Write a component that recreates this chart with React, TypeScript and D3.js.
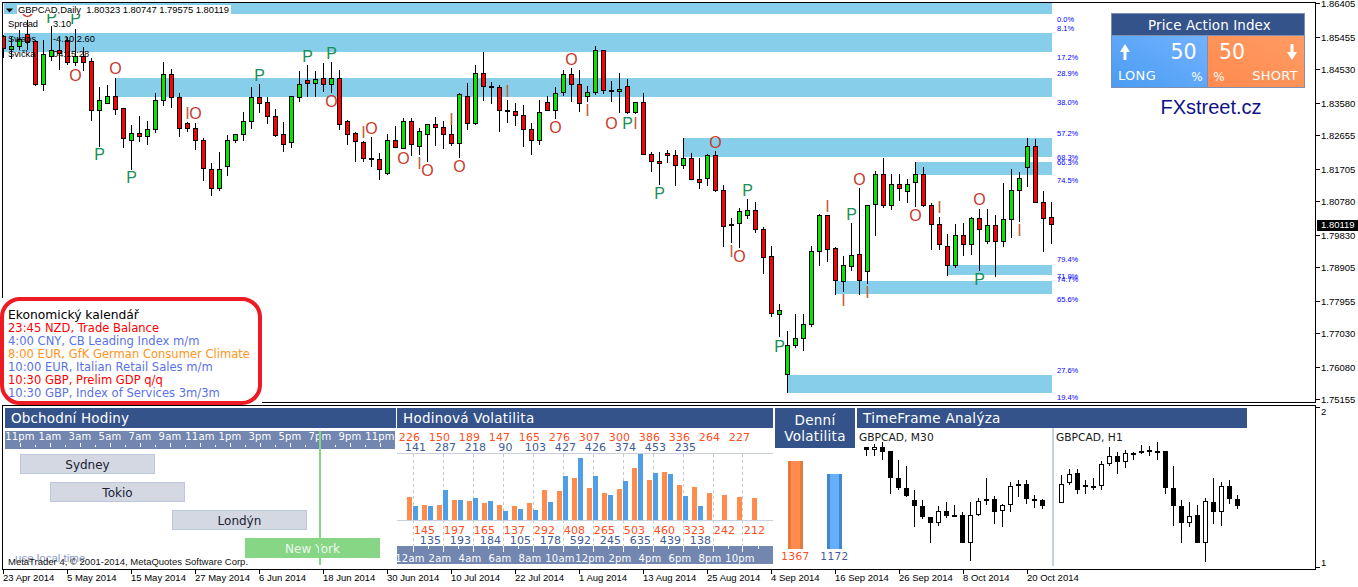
import React, { useEffect, useRef } from 'react';
import * as d3 from 'd3';

// all prices below are in 1/10000 (18545 = 1.8545)
// open, high, low, close
const dailyCandles: number[][] = [
  [18545,18551,18485,18511],[18508,18545,18482,18517],[18517,18565,18508,18539],[18551,18593,18508,18528],
  [18531,18536,18406,18409],[18409,18536,18392,18494],[18488,18576,18477,18505],[18505,18545,18451,18499],
  [18534,18545,18465,18471],[18471,18568,18463,18488],[18488,18517,18448,18471],[18474,18485,18306,18335],
  [18335,18403,18233,18363],[18357,18409,18357,18375],[18375,18428,18323,18340],[18343,18343,18230,18255],
  [18250,18295,18167,18272],[18272,18321,18247,18261],[18261,18306,18238,18281],[18281,18386,18272,18363],
  [18363,18474,18349,18437],[18437,18454,18343,18372],[18372,18386,18261,18284],[18298,18304,18275,18284],
  [18284,18301,18224,18250],[18250,18258,18136,18170],[18167,18187,18093,18113],[18113,18218,18108,18167],
  [18176,18267,18150,18250],[18250,18267,18244,18267],[18267,18332,18250,18306],[18306,18403,18284,18372],
  [18372,18411,18329,18357],[18360,18375,18298,18318],[18318,18340,18261,18264],[18267,18304,18218,18238],
  [18244,18377,18230,18375],[18372,18448,18360,18409],[18420,18465,18375,18414],[18414,18448,18375,18423],
  [18426,18471,18389,18409],[18409,18474,18386,18426],[18426,18451,18281,18295],[18306,18309,18238,18269],
  [18272,18275,18190,18247],[18244,18250,18190,18201],[18201,18261,18176,18196],[18196,18215,18139,18167],
  [18156,18269,18153,18250],[18250,18292,18230,18230],[18227,18315,18227,18304],[18304,18315,18207,18238],
  [18235,18286,18210,18275],[18269,18298,18190,18295],[18295,18318,18235,18289],[18289,18306,18227,18269],
  [18269,18309,18235,18241],[18241,18386,18201,18380],[18377,18414,18281,18298],[18298,18465,18295,18440],
  [18440,18502,18363,18403],[18403,18417,18355,18400],[18400,18409,18275,18335],[18335,18366,18301,18332],
  [18332,18357,18292,18321],[18321,18352,18233,18281],[18281,18301,18210,18250],[18250,18366,18238,18329],
  [18360,18377,18335,18335],[18335,18403,18312,18383],[18386,18451,18377,18437],[18437,18457,18360,18411],
  [18411,18451,18332,18357],[18375,18406,18360,18386],[18386,18519,18380,18505],[18505,18508,18383,18392],
  [18392,18420,18360,18389],[18389,18443,18329,18397],[18403,18426,18326,18329],[18329,18360,18326,18360],
  [18360,18386,18210,18210],[18210,18218,18162,18190],[18190,18218,18125,18184],[18213,18224,18187,18207],
  [18207,18224,18122,18179],[18179,18258,18170,18201],[18201,18215,18139,18139],[18139,18201,18113,18130],
  [18144,18213,18122,18207],[18207,18221,18105,18110],[18110,18125,17949,18005],[18011,18031,17960,18008],
  [18014,18059,17946,18048],[18039,18085,18028,18051],[18051,18076,17988,17997],[17997,18005,17872,17917],
  [17920,17951,17750,17758],[17755,17787,17693,17767],[17585,17710,17534,17667],[17667,17758,17662,17687],
  [17687,17758,17653,17727],[17727,17951,17721,17934],[17934,18042,17895,18037],[18037,18039,17906,17940],
  [17943,17949,17812,17852],[17849,17923,17821,17895],[17892,18017,17880,17923],[17926,18116,17812,17852],
  [17878,18065,17843,18065],[18068,18164,17980,18153],[18153,18201,18059,18065],[18065,18156,18054,18125],
  [18125,18156,18079,18113],[18105,18142,18073,18127],[18130,18190,18062,18153],[18153,18176,18062,18065],
  [18065,18073,17940,18011],[18011,18034,17940,17954],[17949,17985,17866,17897],[17897,18014,17889,17980],
  [17980,18017,17923,17954],[17954,18034,17926,18028],[18028,18056,17880,17997],[17963,18056,17957,18008],
  [18008,18039,17863,17963],[17963,18130,17949,18025],[18025,18170,17974,18110],[18110,18162,18020,18144],
  [18173,18258,18119,18235],[18235,18255,18073,18076],[18076,18108,17934,18028],[18032,18075,17958,18012]
];

// first candle index, top price, bottom price
const zones: number[][] = [
  [0,18641,18610],[0,18556,18503],[14,18428,18375],[85,18258,18204],
  [114,18190,18153],[118,17897,17869],[104,17852,17816],[98,17585,17534]
];

const zoneLabels = ['0.0%','8.1%','17.2%','28.9%','38.0%','57.2%','68.3%','66.3%','74.5%','79.4%','71.9%','74.7%','65.6%','27.6%','19.4%'];
const zoneLabelPrices = [18596,18570,18488,18443,18360,18272,18204,18190,18139,17912,17866,17855,17801,17599,17520];

const markerLetters = 'O P P O O P P P P P O I O I O O I O I O I O O I O P I P O P I O P I P O I I O I O P I'.split(' ');
const markerBars = [3,6,9,9,14,12,16,32,38,41,41,23,24,45,46,50,52,53,56,57,63,69,71,73,76,78,79,82,89,93,91,92,97,103,106,107,105,108,114,117,122,122,127];
const markerPrices = [18619,18602,18599,18437,18457,18213,18147,18437,18491,18499,18363,18329,18329,18275,18286,18201,18187,18167,18312,18179,18392,18289,18482,18338,18301,18301,18301,18102,18247,18110,17937,17923,17667,18065,18042,18142,17798,17821,18039,18062,18085,17858,17997];

const priceTicks = [1.86405,1.85455,1.8453,1.8358,1.82655,1.81705,1.8078,1.7983,1.78905,1.77955,1.7703,1.7608,1.75155];
const dateLabels = ['23 Apr 2014','5 May 2014','15 May 2014','27 May 2014','6 Jun 2014','18 Jun 2014','30 Jun 2014','10 Jul 2014','22 Jul 2014','1 Aug 2014','13 Aug 2014','25 Aug 2014','4 Sep 2014','16 Sep 2014','26 Sep 2014','8 Oct 2014','20 Oct 2014'];

const calendarLines = ['Ekonomický kalendář','23:45 NZD, Trade Balance','4:00 CNY, CB Leading Index m/m','8:00 EUR, GfK German Consumer Climate','10:00 EUR, Italian Retail Sales m/m','10:30 GBP, Prelim GDP q/q','10:30 GBP, Index of Services 3m/3m'];
const calendarColors = ['#000000','#ff0000','#5a72e8','#ff9420','#5a72e8','#ff0000','#5a72e8'];

const sessionHourLabels = ['11pm','1am','3am','5am','7am','9am','11am','1pm','3pm','5pm','7pm','9pm','11pm'];
const sessionNames = ['Sydney','Tokio','Londýn','New York'];
const sessionStarts = [0,2,10.13,15];
const sessionLength = 9;
const nowHour = 19.95;

const hourLabels = ['12am','2am','4am','6am','8am','10am','12pm','2pm','4pm','6pm','8pm','10pm'];
const hourlyOrange = [226,145,150,197,189,165,147,137,165,292,276,408,307,265,300,503,386,460,336,323,264,242,227,212];
const hourlyBlue = [141,135,287,193,218,184,90,105,103,178,427,592,426,245,374,635,453,439,235,138];

const dailyVolNames = ['1367','1172'];
const dailyVol = [1367,1172];

// open, high, low, close in arbitrary levels, the sub window has no real scale
const m30Candles: number[][] = [
  [473,473,448,466],[466,482,448,474],[473,488,435,460],[461,462,334,382],[380,435,346,352],[350,417,325,328],
  [314,345,235,298],[296,315,258,265],[263,263,186,248],[248,297,238,281],[281,308,260,268],[269,300,264,266],
  [269,280,186,187],[188,308,132,269],[272,322,266,311],[317,381,299,313],[317,328,244,280],[284,304,234,299],
  [302,368,280,356],[362,374,324,359],[362,374,304,319],[317,330,292,314],[314,318,288,298]
];
const h1Candles: number[][] = [
  [308,390,307,362],[368,408,360,392],[395,408,332,347],[360,374,334,356],[357,380,344,353],[359,432,346,422],
  [425,474,418,446],[446,459,393,431],[431,464,412,455],[455,460,434,452],[461,480,452,458],[464,476,448,461],
  [461,488,435,458],[461,462,334,352],[350,417,238,298],[296,315,186,248],[248,308,235,266],[269,300,186,187],
  [188,322,130,311],[308,380,244,280],[281,368,238,356],[356,374,304,319],[317,330,288,298]
];

const NAVY = '#34538a';
const SLATE = '#7286b0';
const ORANGE = '#ff8c4c';
const BLUE = '#4f9fe8';
const LABEL_ORANGE = '#ff4d1c';
const LABEL_BLUE = '#3f5a94';
const SANS = '"DejaVu Sans", sans-serif';
const AXIS = '"Liberation Sans", sans-serif';

type Sel = d3.Selection<any, any, any, any>;

function label(g: Sel, x: number, y: number, s: string, size: number, color: string, anchor = 'start', font = SANS, spacing = 0) {
  return g.append('text')
    .attr('x', x)
    .attr('y', y)
    .attr('dy', '0.36em')
    .attr('text-anchor', anchor)
    .style('font-family', font)
    .style('font-size', `${size}px`)
    .style('letter-spacing', `${spacing}px`)
    .style('white-space', 'pre')
    .style('fill', color)
    .text(s);
}

function box(g: Sel, x: number, y: number, w: number, h: number, fill: string) {
  return g.append('rect')
    .attr('x', x).attr('y', y).attr('width', w).attr('height', h)
    .attr('fill', fill)
    .attr('shape-rendering', 'crispEdges');
}

function candle(g: Sel, cx: number, row: number[], y: (v: number) => number, up: string, down: string) {
  const [o, h, l, c] = row;
  g.append('line')
    .attr('x1', cx).attr('x2', cx)
    .attr('y1', Math.round(y(h))).attr('y2', Math.round(y(l)))
    .attr('stroke', '#000');
  const top = Math.floor(y(Math.max(o, c))) + 0.5;
  const bottom = Math.floor(y(Math.min(o, c))) + 0.5;
  g.append('rect')
    .attr('x', cx - 2).attr('width', 4)
    .attr('y', top).attr('height', Math.max(bottom - top, 1))
    .attr('fill', c > o ? up : down)
    .attr('stroke', '#000');
}

export default function App() {
  const svgRef = useRef<SVGSVGElement>(null);

  useEffect(() => {
    if (!svgRef.current) return;
    const svg = d3.select(svgRef.current);
    svg.selectAll('*').remove();

    const priceY = d3.scaleLinear().domain([1.86405, 1.75155]).range([3.3, 399.3]);
    const barX = d3.scaleLinear().domain([0, 131]).range([3.5, 1051.5]);
    const y4 = (v: number) => priceY(v / 10000);

    const defs = svg.append('defs');
    defs.append('clipPath').attr('id', 'mainClip').append('rect')
      .attr('x', 3).attr('y', 3).attr('width', 1312).attr('height', 399);
    const grad = (id: string, a: string, b: string) => {
      const lg = defs.append('linearGradient').attr('id', id)
        .attr('x1', 0).attr('y1', 1).attr('x2', 1).attr('y2', 0);
      lg.append('stop').attr('offset', 0).attr('stop-color', a);
      lg.append('stop').attr('offset', 1).attr('stop-color', b);
    };
    grad('longFill', '#4a9cf2', '#72b2ff');
    grad('shortFill', '#ff8a4e', '#ff9c64');

    // main window
    const main = svg.append('g').attr('clip-path', 'url(#mainClip)');
    zones.forEach(([start, top, bottom]) => {
      box(main, barX(start), y4(top), barX(131) - barX(start), y4(bottom) - y4(top), '#87ceeb');
    });
    dailyCandles.forEach((row, i) => candle(main, barX(i), row, y4, '#00e800', '#ff0000'));

    const letterColor: Record<string, string> = { O: '#c8392c', P: '#1a8f55', I: '#c0623c' };
    markerLetters.forEach((s, i) => {
      label(main, barX(markerBars[i]), y4(markerPrices[i]), s, 16, letterColor[s], 'middle', AXIS);
    });

    zoneLabels.forEach((s, i) => {
      label(svg, 1057, y4(zoneLabelPrices[i]), s, 7.5, '#0000ff', 'start', AXIS);
    });

    // chart caption and terminal info
    box(svg, 17, 5, 214, 9, '#ffffff');
    svg.append('path').attr('d', 'M6,8.5 L13,8.5 L9.5,12.5 Z').attr('fill', '#000');
    label(svg, 18, 10, 'GBPCAD,Daily  1.80323 1.80747 1.79575 1.80119', 9.4, '#000', 'start', AXIS);
    label(svg, 8, 23.5, 'Spread', 9.3, '#000', 'start', AXIS);
    label(svg, 53, 23.5, '3.10', 9.3, '#000', 'start', AXIS);
    label(svg, 8, 38.5, 'Swaps', 9.3, '#000', 'start', AXIS);
    label(svg, 53, 38.5, '-4.10 2.60', 9.3, '#000', 'start', AXIS);
    label(svg, 8, 53.5, 'Svička', 9.3, '#000', 'start', AXIS);
    label(svg, 53, 53.5, '04:15:28', 9.3, '#000', 'start', AXIS);

    // price action box
    box(svg, 1111, 13, 194, 75, '#7d8fb3');
    box(svg, 1112, 14, 192, 21, NAVY);
    box(svg, 1112, 36, 95, 50.5, 'url(#longFill)');
    box(svg, 1208, 36, 96, 50.5, 'url(#shortFill)');
    label(svg, 1209.5, 25.5, 'Price Action Index', 13.5, '#fff', 'middle', SANS, 0.1);
    label(svg, 1183.5, 52, '50', 20.5, '#fff', 'middle', SANS);
    label(svg, 1232, 52, '50', 20.5, '#fff', 'middle', SANS);
    label(svg, 1118, 75, 'LONG', 13, '#fff', 'start', SANS, 0.3);
    label(svg, 1197, 77, '%', 12, '#fff', 'middle', SANS);
    label(svg, 1219, 77, '%', 12, '#fff', 'middle', SANS);
    label(svg, 1298, 75, 'SHORT', 13, '#fff', 'end', SANS, 0.3);
    svg.append('path').attr('d', 'M1125,44 L1130,52 L1126.5,52 L1126.5,60 L1123.5,60 L1123.5,52 L1120,52 Z').attr('fill', '#fff');
    svg.append('path').attr('d', 'M1292,60 L1297,52 L1293.5,52 L1293.5,44 L1290.5,44 L1290.5,52 L1287,52 Z').attr('fill', '#fff');
    label(svg, 1211, 107, 'FXstreet.cz', 20, '#10108c', 'middle', AXIS);

    // calendar
    svg.append('rect')
      .attr('x', 2).attr('y', 299).attr('width', 258).attr('height', 104).attr('rx', 18)
      .attr('fill', '#fff').attr('stroke', '#ed1c24').attr('stroke-width', 4);
    calendarLines.forEach((s, i) => {
      label(svg, 8, 315 + i * 13, s, i === 0 ? 12.3 : 11.55, calendarColors[i]);
    });

    // sub window frame
    const sub = svg.append('g');

    // trading sessions
    const hourX = d3.scaleLinear().domain([0, 24]).range([20, 380]);
    box(sub, 5, 408, 391, 20, NAVY);
    label(sub, 11, 418, 'Obchodní Hodiny', 13.5, '#fff', 'start', SANS, 0.15);
    box(sub, 5, 431, 390, 18, SLATE);
    sessionHourLabels.forEach((s, i) => label(sub, hourX(i * 2), 436, s, 10, '#fff', 'middle', SANS, 0.2));
    d3.range(0, 25).forEach(h => {
      sub.append('line')
        .attr('x1', Math.round(hourX(h)) + 0.5).attr('x2', Math.round(hourX(h)) + 0.5)
        .attr('y1', h % 2 === 0 ? 443 : 445).attr('y2', 447)
        .attr('stroke', '#fff');
    });
    sessionNames.forEach((s, i) => {
      const green = s === 'New York';
      const x0 = hourX(sessionStarts[i]);
      const top = 454 + i * 28;
      sub.append('rect')
        .attr('x', Math.round(x0) + 0.5).attr('y', top + 0.5)
        .attr('width', hourX(sessionLength) - hourX(0) - 1).attr('height', 19)
        .attr('fill', green ? '#86d686' : '#d3d8e3')
        .attr('stroke', green ? '#86d686' : '#bcc8de');
      label(sub, x0 + (hourX(sessionLength) - hourX(0)) / 2, top + 10.5, s, 12, green ? '#eef8ee' : '#1a2233', 'middle');
    });
    box(sub, hourX(nowHour), 431, 2, 134, '#86d686');
    label(sub, 15, 558, 'use local time', 11.5, '#8c9cc2', 'start', AXIS);
    label(sub, 8, 562, 'MetaTrader 4, © 2001-2014, MetaQuotes Software Corp.', 9.5, '#111', 'start', AXIS);

    // hourly volatility
    const volX = d3.scaleLinear().domain([0, 24]).range([407, 767]);
    const volY = d3.scaleLinear().domain([0, 635]).range([520.3, 454]);
    box(sub, 397, 408, 376, 20, NAVY);
    label(sub, 403, 418, 'Hodinová Volatilita', 13.5, '#fff', 'start', SANS, 0.25);
    hourLabels.forEach((s, i) => {
      const x = Math.round(volX(i * 2) + 5.5) + 0.5;
      sub.append('line')
        .attr('x1', x).attr('x2', x).attr('y1', 454).attr('y2', 546)
        .attr('stroke', '#c9c9c9').attr('stroke-dasharray', '3,3');
    });
    box(sub, 397, 453, 376, 1, '#c8d0dc');
    box(sub, 397, 520, 376, 1, '#c8d0dc');
    hourlyOrange.forEach((v, h) => {
      box(sub, volX(h), volY(v), 5, volY(0) - volY(v), ORANGE);
      const even = h % 2 === 0;
      label(sub, volX(h) + 2.5, even ? 437 : 530, String(v), 11, LABEL_ORANGE, 'middle', SANS, 0.2);
    });
    hourlyBlue.forEach((v, h) => {
      box(sub, volX(h) + 6, volY(v), 5, volY(0) - volY(v), BLUE);
      const even = h % 2 === 0;
      label(sub, volX(h) + 8.5, even ? 447 : 540, String(v), 11, LABEL_BLUE, 'middle', SANS, 0.2);
    });
    box(sub, 397, 546, 376, 17.5, SLATE);
    d3.range(0, 25).forEach(h => {
      const x = Math.round(volX(h) + 5.5) + 0.5;
      sub.append('line')
        .attr('x1', x).attr('x2', x).attr('y1', 546).attr('y2', h % 2 === 0 ? 552 : 549)
        .attr('stroke', '#fff');
    });
    hourLabels.forEach((s, i) => label(sub, volX(i * 2) + 3, 558, s, 10, '#fff', 'middle', SANS, 0.2));

    // daily volatility
    const dailyY = d3.scaleLinear().domain([0, 1367]).range([549, 461]);
    const dailyX = d3.scalePoint<string>().domain(dailyVolNames).range([795.5, 834.5]);
    box(sub, 775, 408, 80, 40, NAVY);
    label(sub, 815, 420, 'Denní', 13.5, '#fff', 'middle', SANS, 0.3);
    label(sub, 815, 436, 'Volatilita', 13.5, '#fff', 'middle', SANS, 0.3);
    dailyVol.forEach((v, i) => {
      const cx = dailyX(dailyVolNames[i]) as number;
      const top = dailyY(v);
      const h = dailyY(0) - top;
      box(sub, cx - 7.5, top, 15, h, i === 0 ? '#e27c3e' : '#3f88cc');
      box(sub, cx - 4.5, top, 9, h, i === 0 ? ORANGE : '#68aeff');
      label(sub, cx, 556.5, dailyVolNames[i], 10.5, i === 0 ? LABEL_ORANGE : LABEL_BLUE, 'middle', SANS, 0.4);
    });

    // timeframe analysis
    const miniY = d3.scaleLinear().domain([600, 54]).range([405, 587]);
    box(sub, 857, 408, 390, 20, NAVY);
    label(sub, 863, 418, 'TimeFrame Analýza', 13.5, '#fff', 'start', SANS, 0.3);
    box(sub, 1052, 428, 2, 138, '#c8d0dc');
    label(sub, 859, 437, 'GBPCAD, M30', 10.7, '#1a1a1a', 'start', SANS);
    label(sub, 1056, 437, 'GBPCAD, H1', 10.7, '#1a1a1a', 'start', SANS);
    const m30X = d3.scaleLinear().domain([0, 1]).range([866.5, 874.5]);
    const h1X = d3.scaleLinear().domain([0, 1]).range([1061.5, 1069.5]);
    m30Candles.forEach((row, i) => candle(sub, m30X(i), row, miniY, '#fff', '#000'));
    h1Candles.forEach((row, i) => candle(sub, h1X(i), row, miniY, '#fff', '#000'));

    // frames and axes
    const frame = svg.append('g').attr('fill', 'none').attr('stroke', '#000').attr('shape-rendering', 'crispEdges');
    frame.append('path').attr('d', 'M2.5,298 L2.5,2.5 L1315.5,2.5 L1315.5,402.5 L262,402.5');
    frame.append('path').attr('d', 'M2.5,405.5 L1315.5,405.5 L1315.5,569.5 L2.5,569.5 Z');

    priceTicks.forEach(p => {
      const y = Math.round(priceY(p)) + 0.5;
      frame.append('line').attr('x1', 1316).attr('x2', 1320).attr('y1', y).attr('y2', y);
      label(svg, 1321, y, p.toFixed(5), 9.5, '#000', 'start', AXIS);
    });
    const lastY = priceY(1.80119);
    box(svg, 1317, Math.round(lastY) - 5, 41, 11, '#000');
    label(svg, 1321, lastY + 0.5, '1.80119', 9.5, '#fff', 'start', AXIS);

    dateLabels.forEach((s, i) => {
      const x = Math.floor(barX(i * 8));
      frame.append('line').attr('x1', x + 0.5).attr('x2', x + 0.5).attr('y1', 570).attr('y2', 574);
      label(svg, x, 578, s, 9.5, '#000', 'start', AXIS);
    });
    frame.append('line').attr('x1', 1316).attr('x2', 1320).attr('y1', 407.5).attr('y2', 407.5);
    frame.append('line').attr('x1', 1316).attr('x2', 1320).attr('y1', 567.5).attr('y2', 567.5);
    label(svg, 1321, 412, '2', 9.5, '#000', 'start', AXIS);
    label(svg, 1321, 563, '1', 9.5, '#000', 'start', AXIS);
  }, []);

  return (
    <svg
      ref={svgRef}
      width={1358}
      height={587}
      style={{ position: 'absolute', left: 0, top: 0, background: '#fff' }}
    />
  );
}
